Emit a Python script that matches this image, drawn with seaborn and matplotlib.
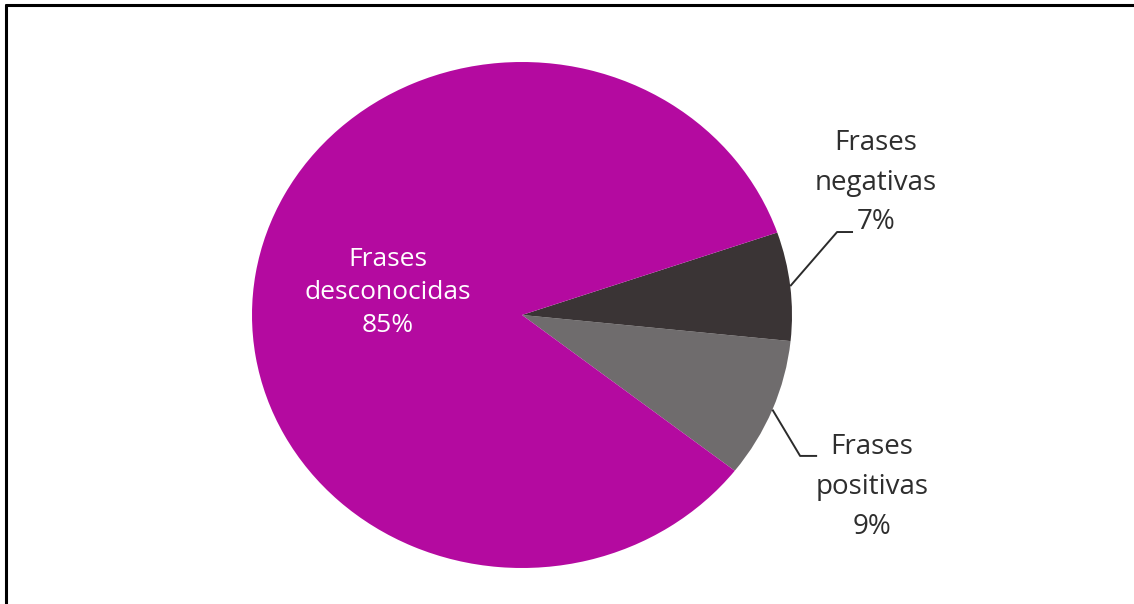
import numpy as np
import matplotlib
matplotlib.use("Agg")
import matplotlib.pyplot as plt
from matplotlib.lines import Line2D
import seaborn as sns

# Share of phrases by type (counter-clockwise drawing order)
categories = ["Frases positivas", "Frases negativas", "Frases desconocidas"]
values = [9, 7, 85]
labels = ["Frases\npositivas\n9%", "Frases\nnegativas\n7%", "Frases\ndesconocidas\n85%"]
colors = ["#6F6C6D", "#3A3435", "#B40AA0"]

sns.set_theme(style="white")
plt.rcParams["font.family"] = ["Open Sans", "DejaVu Sans"]

W, H = 1134, 604
fig = plt.figure(figsize=(W / 100, H / 100), dpi=100)
fig.patch.set_facecolor("white")

# pie occupies an ellipse 540 x 506 px
ax = fig.add_axes([252 / W, (H - 568) / H, 540 / W, 506 / H])
wedges, _ = ax.pie(values, colors=sns.color_palette(colors), startangle=-38,
                   counterclock=True, wedgeprops=dict(linewidth=0))
ax.set_aspect("auto")
ax.set_xlim(-1, 1)
ax.set_ylim(-1, 1)
ax.axis("off")

def mid_point(w):
    a = np.deg2rad((w.theta1 + w.theta2) / 2)
    return np.cos(a), np.sin(a)

# inside label for the large wedge
ax.text(-0.496, 0.09, labels[2], ha="center", va="center", color="white",
        fontsize=19, linespacing=1.42)

# outside labels with elbow leader lines
callouts = {
    1: dict(elbow=(1.167, 0.328), end=(1.226, 0.328), text=(1.311, 0.522)),
    0: dict(elbow=(1.030, -0.557), end=(1.093, -0.557), text=(1.296, -0.68)),
}
for i, c in callouts.items():
    x0, y0 = mid_point(wedges[i])
    ax.plot([x0, c["elbow"][0], c["end"][0]], [y0, c["elbow"][1], c["end"][1]],
            color="#2b2b2b", lw=1.4, clip_on=False, solid_capstyle="butt")
    ax.text(*c["text"], labels[i], ha="center", va="center", color="#2e2e2e",
            fontsize=20, linespacing=1.55)

# frame lines along the top and left edges
fig.add_artist(Line2D([6 / W, 1], [1 - 5 / H, 1 - 5 / H], color="black", lw=2.2))
fig.add_artist(Line2D([6 / W, 6 / W], [0, 1 - 5 / H], color="black", lw=2.2))

fig.savefig("out.png", dpi=100, facecolor="white")
